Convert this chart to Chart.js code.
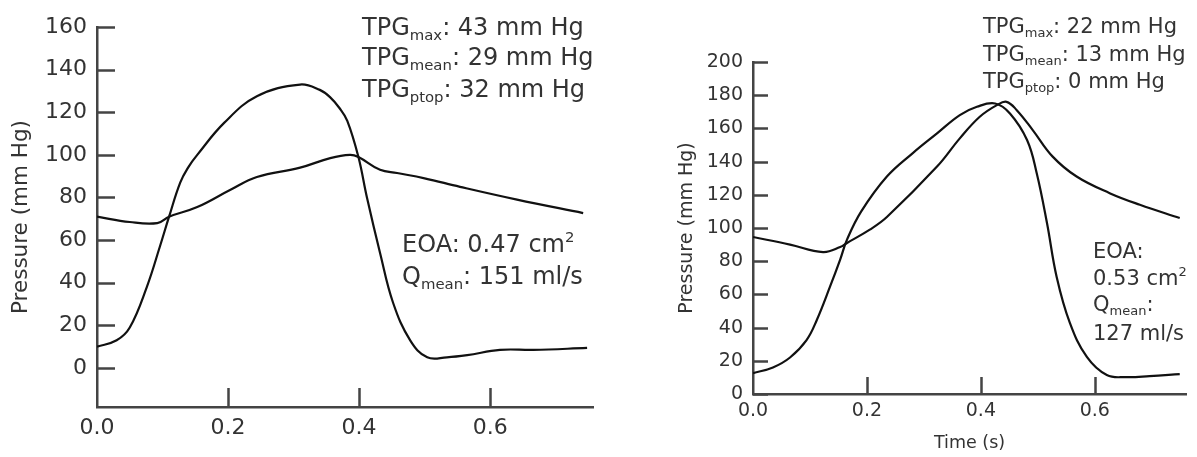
<!DOCTYPE html>
<html>
<head>
<meta charset="utf-8">
<script src="https://cdn.jsdelivr.net/npm/chart.js@4.4.1/dist/chart.umd.min.js"></script>
<style>
  html, body { margin: 0; padding: 0; background: #fff; }
  #wrap { position: relative; width: 1197px; height: 457px; overflow: hidden; }
  canvas { position: absolute; top: 0; }
  #leftChart { left: 0; }
  #rightChart { left: 600px; }
</style>
</head>
<body>
<div id="wrap">
  <canvas id="leftChart" width="600" height="457"></canvas>
  <canvas id="rightChart" width="597" height="457"></canvas>
</div>
<script>
// ---------- ข้อมูลกราฟซ้าย (อ่านค่าจากภาพ) ----------
const leftLvTime = [0, 0.03, 0.05, 0.076, 0.096, 0.11, 0.127, 0.14, 0.153, 0.194, 0.244, 0.31, 0.34, 0.356, 0.37, 0.382, 0.399, 0.412, 0.432, 0.452, 0.478, 0.504, 0.534, 0.565, 0.615, 0.666, 0.748];
const leftLvPressure = [10, 13, 19, 38, 57, 71, 87, 94.5, 100, 115, 127.5, 133, 130.5, 127, 122, 116, 99, 80, 54, 30.5, 13, 5, 5, 6, 8.5, 8.5, 9.4];
const leftAoTime = [0, 0.05, 0.092, 0.11, 0.153, 0.203, 0.244, 0.31, 0.356, 0.386, 0.399, 0.432, 0.458, 0.5, 0.554, 0.641, 0.742];
const leftAoPressure = [71, 68.5, 68, 71, 75.5, 83.5, 89.6, 94, 98.5, 100, 99, 93, 91.5, 89, 85, 79, 72.7];
const leftYTicks = [0, 20, 40, 60, 80, 100, 120, 140, 160];

// ---------- ข้อมูลกราฟขวา ----------
const rightLvTime = [0, 0.035, 0.065, 0.094, 0.112, 0.135, 0.153, 0.165, 0.19, 0.235, 0.28, 0.323, 0.363, 0.393, 0.425, 0.451, 0.481, 0.498, 0.516, 0.533, 0.556, 0.586, 0.621, 0.656, 0.696, 0.749];
const rightLvPressure = [12.6, 16, 22, 32.5, 44.6, 64.5, 81, 93, 110, 131, 145, 157, 168, 173, 175, 169, 153, 133, 103, 70.5, 43, 22.3, 11.4, 10.2, 10.8, 12];
const rightAoTime = [0, 0.065, 0.123, 0.153, 0.165, 0.205, 0.235, 0.323, 0.363, 0.398, 0.428, 0.445, 0.463, 0.491, 0.526, 0.568, 0.626, 0.679, 0.749];
const rightAoPressure = [94.6, 90, 85.5, 88.5, 91, 99, 106.6, 137, 154, 167, 174, 176, 171, 159, 143, 131, 121, 114, 106];
const rightYTicks = [0, 20, 40, 60, 80, 100, 120, 140, 160, 180, 200];

const xTicks = [0, 0.2, 0.4, 0.6];

const FONT = "'DejaVu Sans', sans-serif";
const TEXT_COLOR = "#333";
const AXIS_COLOR = "#444";

function toPoints(xs, ys) {
  return xs.map((x, i) => ({ x: x, y: ys[i] }));
}

// ขีด tick ชี้เข้าด้านในกราฟ (Chart.js วาดออกด้านนอกเท่านั้น)
const inwardTicks = {
  id: "inwardTicks",
  afterDraw(chart, args, opts) {
    const { ctx, chartArea, scales } = chart;
    ctx.save();
    ctx.strokeStyle = AXIS_COLOR;
    ctx.lineWidth = 2.5;
    ctx.beginPath();
    scales.y.ticks.forEach(t => {
      const py = Math.round(scales.y.getPixelForValue(t.value)) + 0.5;
      ctx.moveTo(chartArea.left, py);
      ctx.lineTo(chartArea.left + opts.yLen, py);
    });
    scales.x.ticks.forEach(t => {
      if (t.value === 0) return;
      const px = Math.round(scales.x.getPixelForValue(t.value)) + 0.5;
      ctx.moveTo(px, chartArea.bottom);
      ctx.lineTo(px, chartArea.bottom - opts.xLen);
    });
    ctx.stroke();
    ctx.restore();
  }
};

// ข้อความกำกับ มีตัวห้อย/ตัวยก
const notes = {
  id: "notes",
  afterDraw(chart, args, opts) {
    const ctx = chart.ctx;
    ctx.save();
    ctx.fillStyle = TEXT_COLOR;
    ctx.textBaseline = "alphabetic";
    opts.lines.forEach(line => {
      let x = line.x;
      line.parts.forEach(p => {
        let size = opts.size, dy = 0;
        if (p.sub) { size = opts.size * 0.62; dy = opts.size * 0.2; }
        if (p.sup) { size = opts.size * 0.62; dy = -opts.size * 0.42; }
        ctx.font = size + "px " + FONT;
        ctx.fillText(p.t, x, line.y + dy);
        x += ctx.measureText(p.t).width;
      });
    });
    ctx.restore();
  }
};

function makeChart(id, cfg) {
  return new Chart(document.getElementById(id), {
    type: "line",
    data: {
      datasets: [
        { data: toPoints(cfg.lvTime, cfg.lvPressure) },
        { data: toPoints(cfg.aoTime, cfg.aoPressure) }
      ]
    },
    options: {
      responsive: false,
      animation: false,
      devicePixelRatio: 1,
      layout: { padding: cfg.padding },
      elements: {
        point: { radius: 0 },
        line: { borderColor: "#111", borderWidth: 2.2, tension: 0.4, fill: false }
      },
      plugins: {
        legend: { display: false },
        tooltip: { enabled: false },
        inwardTicks: { yLen: cfg.yTickLen, xLen: cfg.xTickLen },
        notes: { size: cfg.noteSize, lines: cfg.notes }
      },
      scales: {
        x: {
          type: "linear",
          min: 0,
          max: cfg.xMax,
          afterBuildTicks: s => { s.ticks = xTicks.map(v => ({ value: v })); },
          afterFit: s => { s.height = cfg.xAxisHeight; },
          grid: { display: false, drawTicks: false },
          border: { display: true, color: AXIS_COLOR, width: 2.5 },
          ticks: {
            color: TEXT_COLOR,
            font: { family: FONT, size: cfg.tickSize },
            padding: cfg.xLabelPad,
            maxRotation: 0,
            callback: v => v.toFixed(1)
          },
          title: {
            display: !!cfg.xTitle,
            text: cfg.xTitle || "",
            color: TEXT_COLOR,
            font: { family: FONT, size: cfg.xTitleSize || cfg.titleSize },
            padding: { top: 0, bottom: cfg.xTitlePad }
          }
        },
        y: {
          min: cfg.yMin,
          max: cfg.yMax,
          afterBuildTicks: s => { s.ticks = cfg.yTicks.map(v => ({ value: v })); },
          afterFit: s => { s.width = cfg.yAxisWidth; },
          grid: { display: false, drawTicks: false },
          border: { display: true, color: AXIS_COLOR, width: 2.5 },
          ticks: {
            color: TEXT_COLOR,
            font: { family: FONT, size: cfg.tickSize },
            padding: cfg.yLabelPad
          },
          title: {
            display: true,
            text: "Pressure (mm Hg)",
            color: TEXT_COLOR,
            font: { family: FONT, size: cfg.titleSize },
            padding: { top: cfg.yTitlePad, bottom: 0 }
          }
        }
      }
    },
    plugins: [inwardTicks, notes]
  });
}

makeChart("leftChart", {
  lvTime: leftLvTime, lvPressure: leftLvPressure,
  aoTime: leftAoTime, aoPressure: leftAoPressure,
  yTicks: leftYTicks, yMin: -18.3, yMax: 160, xMax: 0.757,
  padding: { top: 27, right: 7, left: 0, bottom: 0 },
  yAxisWidth: 97, xAxisHeight: 50,
  yTickLen: 18, xTickLen: 19,
  tickSize: 22, titleSize: 21.5, noteSize: 24,
  xLabelPad: 8, yLabelPad: 10, yTitlePad: 9,
  notes: [
    { x: 362, y: 35, parts: [{ t: "TPG" }, { t: "max", sub: true }, { t: ": 43 mm Hg" }] },
    { x: 362, y: 65, parts: [{ t: "TPG" }, { t: "mean", sub: true }, { t: ": 29 mm Hg" }] },
    { x: 362, y: 97, parts: [{ t: "TPG" }, { t: "ptop", sub: true }, { t: ": 32 mm Hg" }] },
    { x: 402, y: 252, parts: [{ t: "EOA: 0.47 cm" }, { t: "2", sup: true }] },
    { x: 402, y: 284, parts: [{ t: "Q" }, { t: "mean", sub: true }, { t: ": 151 ml/s" }] }
  ]
});

makeChart("rightChart", {
  lvTime: rightLvTime, lvPressure: rightLvPressure,
  aoTime: rightAoTime, aoPressure: rightAoPressure,
  yTicks: rightYTicks, yMin: 0, yMax: 200, xMax: 0.76,
  padding: { top: 62, right: 11, left: 0, bottom: 0 },
  yAxisWidth: 153, xAxisHeight: 63,
  yTickLen: 15, xTickLen: 17,
  tickSize: 19, titleSize: 19, xTitleSize: 17.5, noteSize: 21,
  xLabelPad: 6, yLabelPad: 10, yTitlePad: 76,
  xTitle: "Time (s)", xTitlePad: 3,
  notes: [
    { x: 383, y: 33, parts: [{ t: "TPG" }, { t: "max", sub: true }, { t: ": 22 mm Hg" }] },
    { x: 383, y: 61, parts: [{ t: "TPG" }, { t: "mean", sub: true }, { t: ": 13 mm Hg" }] },
    { x: 383, y: 88, parts: [{ t: "TPG" }, { t: "ptop", sub: true }, { t: ": 0 mm Hg" }] },
    { x: 493, y: 258, parts: [{ t: "EOA:" }] },
    { x: 493, y: 285, parts: [{ t: "0.53 cm" }, { t: "2", sup: true }] },
    { x: 493, y: 311, parts: [{ t: "Q" }, { t: "mean", sub: true }, { t: ":" }] },
    { x: 493, y: 340, parts: [{ t: "127 ml/s" }] }
  ]
});
</script>
</body>
</html>
